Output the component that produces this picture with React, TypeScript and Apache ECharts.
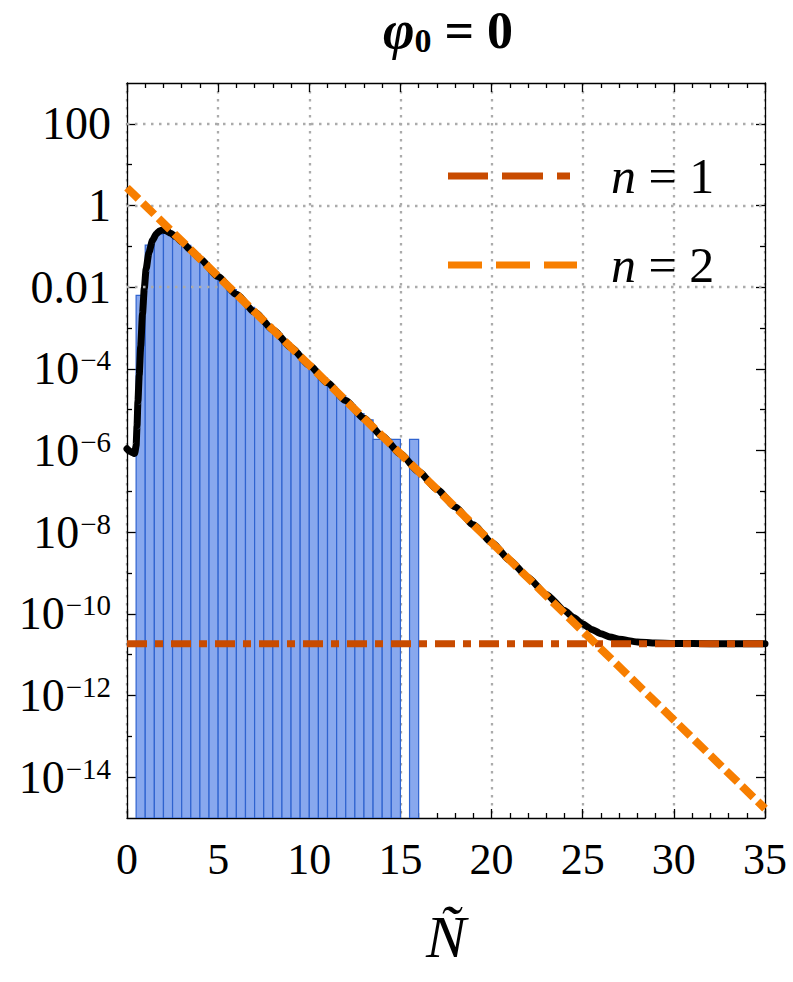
import React, { useEffect, useRef } from "react";
import * as echarts from "echarts";

// Histogram of sampled N (bin width 0.5); null marks an empty bin
const binWidth = 0.5;
const binLefts = [
  0.5, 1.0, 1.5, 2.0, 2.5, 3.0, 3.5, 4.0, 4.5, 5.0, 5.5, 6.0, 6.5, 7.0, 7.5, 8.0,
  8.5, 9.0, 9.5, 10.0, 10.5, 11.0, 11.5, 12.0, 12.5, 13.0, 13.5, 14.0, 14.5, 15.0, 15.5,
];
const binHeights = [
  6.3e-3, 0.107, 0.2, 0.22, 0.15, 0.105, 0.0646, 0.0392, 0.0238, 0.0144, 0.00875,
  0.0053, 0.00322, 0.00195, 0.00118, 7.2e-4, 4.35e-4, 2.65e-4, 1.6e-4, 9.7e-5, 5.9e-5,
  3.6e-5, 2.2e-5, 1.33e-5, 8.0e-6, 5.6e-6, 1.87e-6, 1.87e-6, 1.87e-6, null, 1.87e-6,
];

// Full distribution (black curve)
const curveN = [
  0, 0.15, 0.3, 0.42, 0.5, 0.55, 0.6, 0.67, 0.75, 0.85, 0.95, 1.05, 1.2, 1.4, 1.6, 1.8,
  1.95, 2.1, 2.4, 2.7, 3, 3.5, 4, 5, 6, 7, 8, 9, 10, 11, 12, 13, 14, 15, 16, 17, 18, 19,
  20, 21, 22, 23, 24, 24.5, 25, 25.5, 26, 26.5, 27, 28, 29, 30, 32, 35,
];
const curveP = [
  1.1e-6, 9.6e-7, 8.8e-7, 8.5e-7, 1.3e-6, 4e-6, 1.6e-5, 7e-5, 3.5e-4, 2.2e-3, 9.5e-3,
  2.8e-2, 7e-2, 0.14, 0.2, 0.24, 0.25, 0.245, 0.21, 0.17, 0.13, 0.0805, 0.0495, 0.0182,
  6.7e-3, 2.47e-3, 9.1e-4, 3.35e-4, 1.23e-4, 4.54e-5, 1.67e-5, 6.14e-6, 2.26e-6, 8.3e-7,
  3.06e-7, 1.13e-7, 4.14e-8, 1.52e-8, 5.6e-9, 2.06e-9, 7.77e-10, 2.98e-10, 1.21e-10,
  8.1e-11, 5.64e-11, 4.15e-11, 3.25e-11, 2.7e-11, 2.37e-11, 2.05e-11, 1.93e-11, 1.89e-11,
  1.86e-11, 1.86e-11,
];

// n = 1 approximation: constant level
const n1N = [0, 35];
const n1P = [1.86e-11, 1.86e-11];
// n = 2 approximation: exponential tail
const n2N = [0, 35];
const n2P = [2.72, 1.7e-15];

// Axis ticks
const xMin = 0;
const xMax = 35;
const xStep = 5;
const yMin = 1e-15;
const yMax = 1e3;
const yMajorExps = [2, 0, -2, -4, -6, -8, -10, -12, -14];
const yMajorText = ["100", "1", "0.01", "-4", "-6", "-8", "-10", "-12", "-14"];
const yMinorExps = [1, -1, -3, -5, -7, -9, -11, -13];

const legendItems = ["n = 1", "n = 2"];

const SERIF = '"Liberation Serif", "Times New Roman", "DejaVu Serif", serif';
const C_N1 = "#C84B00";
const C_N2 = "#F77E00";
const BAR_FILL = "#88A8EE";
const BAR_EDGE = "#2F63CF";
const GRID_GRAY = "#ababab";

export default function App() {
  const ref = useRef<HTMLDivElement>(null);

  useEffect(() => {
    if (!ref.current) return;
    const chart = echarts.init(ref.current, null, { renderer: "svg" });

    const majorVals = yMajorExps.map((e) => Math.pow(10, e));
    const minorVals = yMinorExps.map((e) => Math.pow(10, e));

    const yLabel = (v: number) => {
      const e = Math.round(Math.log10(v));
      const idx = yMajorExps.indexOf(e);
      if (idx < 0) return "";
      const t = yMajorText[idx];
      if (t.startsWith("-")) return `{b|10}{s|\u2212${t.slice(1)}}`;
      return `{b|${t}}`;
    };

    const axisLineStyle = { color: "#000", width: 1.3 };
    const tickLine = { color: "#000", width: 1.3 };

    const yBase = {
      type: "log" as const,
      logBase: 10,
      min: yMin,
      max: yMax,
      splitLine: { show: false },
      minorTick: { show: false },
      minorSplitLine: { show: false },
    };

    const xBase = {
      type: "value" as const,
      min: xMin,
      max: xMax,
      interval: xStep,
      minorTick: { show: true, splitNumber: 5, length: 5, lineStyle: tickLine },
      axisTick: { show: true, inside: true, length: 9, lineStyle: tickLine },
      axisLine: { show: true, lineStyle: axisLineStyle },
    };

    const barData = binLefts
      .map((b, i) => [b, b + binWidth, binHeights[i]])
      .filter((d) => d[2] != null);

    const option: any = {
      animation: false,
      backgroundColor: "#fff",
      title: {
        text: "{p|\u03c6}{s|0}{e| = 0}",
        left: 443,
        top: -2,
        textAlign: "center",
        textStyle: {
          rich: {
            p: { fontSize: 54, fontStyle: "italic", fontWeight: "bold", fontFamily: SERIF, color: "#000" },
            s: { fontSize: 34, fontWeight: "bold", fontFamily: SERIF, color: "#000", verticalAlign: "bottom" },
            e: { fontSize: 52, fontWeight: "bold", fontFamily: SERIF, color: "#000" },
          },
        },
      },
      grid: { left: 127, right: 28, top: 83, bottom: 164 },
      xAxis: [
        {
          ...xBase,
          position: "bottom",
          name: "\u00d1",
          nameLocation: "middle",
          nameGap: 89,
          nameTextStyle: { fontSize: 60, fontStyle: "italic", fontFamily: SERIF, color: "#000" },
          axisLabel: { fontSize: 44, fontFamily: SERIF, color: "#000", margin: 19 },
          splitLine: { show: true, lineStyle: { color: GRID_GRAY, width: 2.3, type: [2.5, 5.5] } },
        },
        {
          ...xBase,
          position: "top",
          axisLabel: { show: false },
          splitLine: { show: false },
        },
      ],
      yAxis: [
        {
          ...yBase,
          position: "left",
          axisLine: { show: true, lineStyle: axisLineStyle },
          axisTick: { show: true, inside: true, length: 9, lineStyle: tickLine, customValues: majorVals },
          axisLabel: {
            show: true,
            customValues: majorVals,
            formatter: yLabel,
            margin: 16,
            color: "#000",
            fontSize: 46,
            fontFamily: SERIF,
            rich: {
              b: { fontSize: 46, lineHeight: 46, fontFamily: SERIF, color: "#000", verticalAlign: "bottom" },
              s: {
                fontSize: 29,
                lineHeight: 29,
                fontFamily: SERIF,
                color: "#000",
                verticalAlign: "top",
                padding: [0, 0, 22, 1],
              },
            },
          },
        },
        {
          ...yBase,
          position: "left",
          axisLine: { show: false },
          axisTick: { show: true, inside: true, length: 5, lineStyle: tickLine, customValues: minorVals },
          axisLabel: { show: false },
        },
        {
          ...yBase,
          position: "right",
          axisLine: { show: true, lineStyle: axisLineStyle },
          axisTick: { show: true, inside: true, length: 9, lineStyle: tickLine, customValues: majorVals },
          axisLabel: { show: false },
        },
        {
          ...yBase,
          position: "right",
          axisLine: { show: false },
          axisTick: { show: true, inside: true, length: 5, lineStyle: tickLine, customValues: minorVals },
          axisLabel: { show: false },
        },
      ],
      series: [
        {
          // horizontal grid lines at every second decade
          type: "line",
          xAxisIndex: 0,
          yAxisIndex: 0,
          data: [],
          z: 1,
          silent: true,
          markLine: {
            silent: true,
            symbol: ["none", "none"],
            label: { show: false },
            lineStyle: { color: GRID_GRAY, width: 2.3, type: [2.5, 5.5] },
            emphasis: { disabled: true },
            data: majorVals.map((v) => ({ yAxis: v })),
          },
        },
        {
          type: "custom",
          xAxisIndex: 0,
          yAxisIndex: 0,
          z: 2,
          clip: true,
          encode: { x: [0, 1], y: 2 },
          data: barData,
          renderItem: (_params: any, api: any) => {
            const x0 = api.value(0);
            const x1 = api.value(1);
            const v = api.value(2);
            const tl = api.coord([x0, v]);
            const br = api.coord([x1, yMin]);
            return {
              type: "rect",
              shape: { x: tl[0], y: tl[1], width: br[0] - tl[0], height: br[1] - tl[1] },
              style: { fill: BAR_FILL, stroke: BAR_EDGE, lineWidth: 1.2 },
            };
          },
        },
        {
          type: "line",
          xAxisIndex: 0,
          yAxisIndex: 0,
          z: 3,
          showSymbol: false,
          symbol: "none",
          smooth: 0.2,
          smoothMonotone: "x",
          data: curveN.map((n, i) => [n, curveP[i]]),
          lineStyle: { color: "#000", width: 7, cap: "round", join: "round" },
        },
        {
          type: "line",
          xAxisIndex: 0,
          yAxisIndex: 0,
          z: 4,
          symbol: "none",
          data: n1N.map((n, i) => [n, n1P[i]]),
          lineStyle: { color: C_N1, width: 7, type: [20, 8, 8, 8], cap: "butt" },
        },
        {
          type: "line",
          xAxisIndex: 0,
          yAxisIndex: 0,
          z: 5,
          symbol: "none",
          data: n2N.map((n, i) => [n, n2P[i]]),
          lineStyle: { color: C_N2, width: 8, type: [16, 6], cap: "butt" },
        },
      ],
      graphic: [
        {
          type: "line",
          z: 10,
          shape: { x1: 448, y1: 176, x2: 570, y2: 176 },
          style: { stroke: C_N1, lineWidth: 7, lineDash: [40, 14, 41, 14, 13, 30] },
        },
        {
          type: "line",
          z: 10,
          shape: { x1: 448, y1: 265, x2: 577, y2: 265 },
          style: { stroke: C_N2, lineWidth: 7, lineDash: [34, 14] },
        },
        ...legendItems.map((t, i) => ({
          type: "text",
          z: 10,
          x: 611,
          y: i === 0 ? 176 : 265,
          style: {
            text: `{i|${t.slice(0, 1)}}{r|${t.slice(1)}}`,
            verticalAlign: "middle",
            rich: {
              i: { fontSize: 50, fontStyle: "italic", fontFamily: SERIF, fill: "#000" },
              r: { fontSize: 50, fontFamily: SERIF, fill: "#000" },
            },
          },
        })),
      ],
    };

    chart.setOption(option);
    return () => chart.dispose();
  }, []);

  return (
    <div
      ref={ref}
      style={{ position: "fixed", left: 0, top: 0, width: 793, height: 982, background: "#fff" }}
    />
  );
}
